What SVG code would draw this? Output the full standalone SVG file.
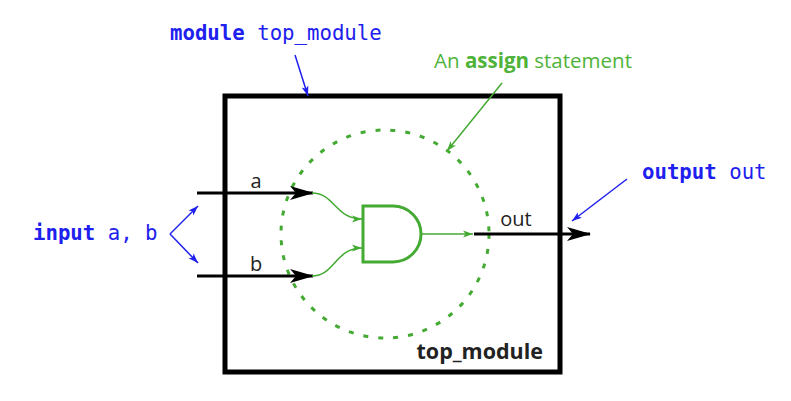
<svg xmlns="http://www.w3.org/2000/svg" width="791" height="401" viewBox="0 0 791 401">
<style>
.mono{font-family:"DejaVu Sans Mono","Liberation Mono",monospace;font-size:20.7px;fill:#2020ee}
.b{font-weight:bold}
.sans{font-family:"Open Sans","Noto Sans",sans-serif;font-size:20px;fill:#222}
.gtxt{font-family:"Open Sans","Noto Sans",sans-serif;font-size:20.5px;fill:#4fb33a}
.wire{stroke:#000;stroke-width:3;fill:none}
.gw{stroke:#44aa33;stroke-width:1.5;fill:none}
.blue{stroke:#2020ee;stroke-width:1.5;fill:none}
</style>
<defs>
<marker id="blk" viewBox="0 0 24 16" refX="23" refY="8" markerWidth="24" markerHeight="16" markerUnits="userSpaceOnUse" orient="auto">
<path d="M0,1 L24,8 L0,15 L6,8 Z" fill="#000"/>
</marker>
<marker id="grn" viewBox="0 0 10 8" refX="10" refY="4" markerWidth="10" markerHeight="8" markerUnits="userSpaceOnUse" orient="auto">
<path d="M0,0.5 L10,4 L0,7.5 L2.5,4 Z" fill="#44aa33"/>
</marker>
<marker id="blu" viewBox="0 0 10 8" refX="10" refY="4" markerWidth="10" markerHeight="8" markerUnits="userSpaceOnUse" orient="auto">
<path d="M0,0.5 L10,4 L0,7.5 L2.5,4 Z" fill="#2020ee"/>
</marker>
</defs>
<g id="module-box">
<rect x="225" y="96" width="335" height="276" fill="none" stroke="#000" stroke-width="5"/>
<text class="sans b" x="543" y="359" text-anchor="end" style="font-size:21.5px">top_module</text>
</g>
<g id="assign-region">
<circle cx="385" cy="234" r="104" fill="none" stroke="#44aa33" stroke-width="3" stroke-dasharray="5 10"/>
</g>
<g id="and-gate">
<path d="M363,206 L393,206 A28,28 0 0 1 393,262 L363,262 Z" fill="none" stroke="#44aa33" stroke-width="3"/>
</g>
<g id="labels">
<text class="mono" x="170" y="40"><tspan class="b">module</tspan> top_module</text>
<text class="gtxt" x="434" y="68">An <tspan font-weight="bold">assign</tspan> statement</text>
<text class="mono" x="33" y="240"><tspan class="b">input</tspan> a, b</text>
<text class="mono" x="642" y="179"><tspan class="b">output</tspan> out</text>
<text class="sans" x="256" y="188" text-anchor="middle">a</text>
<text class="sans" x="256" y="271" text-anchor="middle">b</text>
<text class="sans" x="516" y="226" text-anchor="middle">out</text>
</g>
<g id="connectors">
<line class="wire" x1="197" y1="193" x2="313" y2="193" marker-end="url(#blk)"/>
<line class="wire" x1="197" y1="276" x2="313" y2="276" marker-end="url(#blk)"/>
<path class="gw" d="M312,193 C335,193 335,219 362,219" marker-end="url(#grn)"/>
<path class="gw" d="M312,276 C335,276 335,248 362,248" marker-end="url(#grn)"/>
<line class="gw" x1="421" y1="234" x2="473" y2="234" marker-end="url(#grn)"/>
<line class="wire" x1="474" y1="234" x2="590" y2="234" marker-end="url(#blk)"/>
<line class="gw" x1="502" y1="83" x2="447" y2="151" marker-end="url(#grn)"/>
<line class="blue" x1="295" y1="55" x2="308" y2="96" marker-end="url(#blu)"/>
<line class="blue" x1="170" y1="234" x2="198" y2="206" marker-end="url(#blu)"/>
<line class="blue" x1="170" y1="234" x2="198" y2="263" marker-end="url(#blu)"/>
<line class="blue" x1="627" y1="179" x2="572" y2="221" marker-end="url(#blu)"/>
</g>
</svg>
